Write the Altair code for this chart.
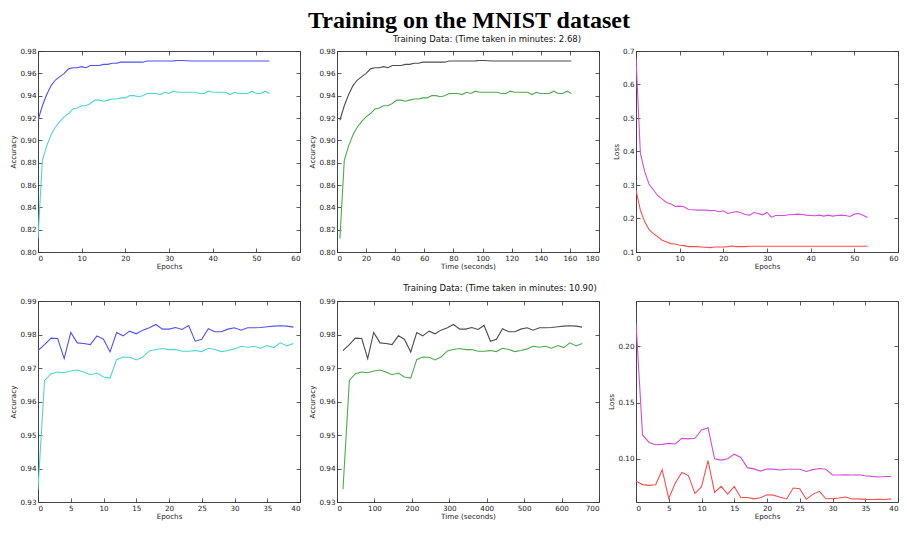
import altair as alt
import pandas as pd

FONT = "DejaVu Sans"

# ---------------- data: run 1 (54 epochs, 2.68 minutes) ----------------
epochs_top = list(range(54))
time_top = [2, 5, 8, 11, 14, 17, 20, 23, 26, 29, 32, 35, 38, 41, 44, 47, 50, 53,
            56, 59, 62, 65, 68, 71, 74, 77, 80, 83, 86, 89, 92, 95, 98, 101, 104,
            107, 110, 113, 116, 119, 122, 125, 128, 131, 134, 137, 140, 143, 146,
            149, 152, 155, 158, 161]
train_acc_top = [0.918, 0.931, 0.941, 0.949, 0.954, 0.957, 0.960, 0.964, 0.965, 0.965,
                 0.966, 0.965, 0.967, 0.967, 0.967, 0.968, 0.968, 0.969, 0.969, 0.970,
                 0.970, 0.970, 0.970, 0.970, 0.970, 0.971, 0.971, 0.971, 0.971, 0.971,
                 0.971, 0.9712, 0.9715, 0.9715, 0.9713, 0.971, 0.971, 0.971, 0.971, 0.971,
                 0.971, 0.971, 0.971, 0.971, 0.971, 0.971, 0.971, 0.971, 0.971, 0.971,
                 0.971, 0.971, 0.971, 0.971]
val_acc_top = [0.812, 0.882, 0.895, 0.905, 0.912, 0.917, 0.921, 0.924, 0.928, 0.929,
               0.931, 0.931, 0.933, 0.936, 0.936, 0.935, 0.936, 0.937, 0.937, 0.938,
               0.938, 0.940, 0.940, 0.939, 0.940, 0.942, 0.942, 0.942, 0.941, 0.943,
               0.942, 0.944, 0.943, 0.943, 0.943, 0.943, 0.943, 0.942, 0.942, 0.944,
               0.943, 0.943, 0.943, 0.943, 0.941, 0.943, 0.942, 0.942, 0.942, 0.944,
               0.942, 0.942, 0.944, 0.942]
val_loss_top = [0.680, 0.395, 0.340, 0.302, 0.285, 0.268, 0.258, 0.248, 0.243, 0.236,
                0.237, 0.235, 0.227, 0.226, 0.225, 0.225, 0.225, 0.224, 0.224, 0.220,
                0.223, 0.215, 0.218, 0.221, 0.217, 0.212, 0.210, 0.218, 0.215, 0.211,
                0.218, 0.204, 0.209, 0.209, 0.209, 0.211, 0.212, 0.213, 0.212, 0.210,
                0.209, 0.208, 0.210, 0.207, 0.210, 0.207, 0.209, 0.210, 0.209, 0.206,
                0.213, 0.215, 0.210, 0.203]
train_loss_top = [0.285, 0.225, 0.190, 0.167, 0.155, 0.145, 0.135, 0.130, 0.125, 0.124,
                  0.120, 0.119, 0.116, 0.116, 0.116, 0.115, 0.114, 0.113, 0.115, 0.115,
                  0.115, 0.116, 0.118, 0.116, 0.116, 0.116, 0.117, 0.117, 0.117, 0.117,
                  0.117, 0.117, 0.117, 0.117, 0.117, 0.117, 0.117, 0.117, 0.117, 0.117,
                  0.117, 0.117, 0.117, 0.117, 0.117, 0.117, 0.117, 0.117, 0.117, 0.117,
                  0.117, 0.117, 0.117, 0.117]

# ---------------- data: run 2 (40 epochs, 10.90 minutes) ----------------
epochs_bot = list(range(40))
time_bot = [16, 33, 49, 66, 82, 98, 115, 131, 147, 164, 180, 197, 213, 229, 246,
            262, 278, 295, 311, 328, 344, 360, 377, 393, 410, 426, 442, 459, 475,
            491, 508, 524, 541, 557, 573, 590, 606, 622, 639, 655]
train_acc_bot = [0.9752, 0.9770, 0.9789, 0.9788, 0.9728, 0.9806, 0.9775, 0.9773, 0.9770, 0.9796,
                 0.9786, 0.9748, 0.9806, 0.9796, 0.9810, 0.9802, 0.9813, 0.9820, 0.9830, 0.9816,
                 0.9816, 0.9821, 0.9815, 0.9827, 0.9780, 0.9786, 0.9817, 0.9808, 0.9808, 0.9816,
                 0.9820, 0.9813, 0.9820, 0.9820, 0.9821, 0.9823, 0.9825, 0.9826, 0.9825, 0.9822]
val_acc_bot = [0.9338, 0.9663, 0.9683, 0.9688, 0.9686, 0.9691, 0.9694, 0.9688, 0.9680, 0.9685,
               0.9673, 0.9670, 0.9725, 0.9733, 0.9732, 0.9724, 0.9733, 0.9751, 0.9755, 0.9758,
               0.9755, 0.9755, 0.9750, 0.9750, 0.9752, 0.9749, 0.9759, 0.9755, 0.9749, 0.9752,
               0.9757, 0.9765, 0.9762, 0.9765, 0.9759, 0.9767, 0.9761, 0.9775, 0.9766, 0.9773]
val_loss_bot = [0.2210, 0.1212, 0.1145, 0.1125, 0.1128, 0.1137, 0.1132, 0.1182, 0.1177, 0.1182,
                0.1256, 0.1277, 0.1000, 0.0988, 0.1000, 0.1041, 0.1012, 0.0921, 0.0910, 0.0890,
                0.0909, 0.0908, 0.0900, 0.0907, 0.0906, 0.0906, 0.0887, 0.0903, 0.0913, 0.0906,
                0.0856, 0.0855, 0.0857, 0.0855, 0.0857, 0.0849, 0.0843, 0.0838, 0.0842, 0.0842]
train_loss_bot = [0.0800, 0.0770, 0.0763, 0.0768, 0.0903, 0.0647, 0.0785, 0.0878, 0.0850, 0.0690,
                  0.0752, 0.0984, 0.0700, 0.0754, 0.0685, 0.0754, 0.0655, 0.0655, 0.0643, 0.0653,
                  0.0680, 0.0676, 0.0658, 0.0642, 0.0740, 0.0733, 0.0640, 0.0683, 0.0710, 0.0644,
                  0.0645, 0.0650, 0.0660, 0.0642, 0.0643, 0.0638, 0.0637, 0.0638, 0.0637, 0.0643]

C_BLUE, C_CYAN = "#5050ff", "#4fd6d0"
C_BLACK, C_GREEN = "#4d4d4d", "#4daa4d"
C_MAG, C_RED = "#d44dd8", "#ff4d4d"

W, H = 262, 201
TICK = 4
FS = 7.2


def panel(xvals, y1, y2, c1, c2, xdom, xticks, ydom, yticks, xtitle, ytitle, yfmt,
          title="", tdx=0, tdy=0):
    df = pd.DataFrame({"x": xvals, "a": y1, "b": y2})
    base = alt.Chart(df)
    xs = alt.Scale(domain=xdom, nice=False, zero=False)
    ys = alt.Scale(domain=ydom, nice=False, zero=False)
    common = dict(offset=-TICK, tickSize=TICK, domain=False, grid=False,
                  tickColor="#333", tickWidth=0.8, labelFont=FONT, titleFont=FONT,
                  labelFontSize=FS, titleFontSize=FS, labelColor="#222", titleColor="#222",
                  titleFontWeight="normal")
    l1 = base.mark_line(color=c1, strokeWidth=1.1, clip=True).encode(
        x=alt.X("x:Q", scale=xs, axis=alt.Axis(values=xticks, title=xtitle, orient="bottom",
                                                format="d", labelPadding=2, titlePadding=1,
                                                **common)),
        y=alt.Y("a:Q", scale=ys, axis=alt.Axis(values=yticks, title=ytitle, orient="left",
                                                format=yfmt, labelPadding=2, titlePadding=2,
                                                **common)),
    )
    l2 = base.mark_line(color=c2, strokeWidth=1.1, clip=True).encode(
        x=alt.X("x:Q", scale=xs, axis=alt.Axis(values=xticks, title="", orient="top",
                                                labels=False, **common)),
        y=alt.Y("b:Q", scale=ys, axis=alt.Axis(values=yticks, title="", orient="right",
                                                labels=False, **common)),
    )
    ch = alt.layer(l1, l2).resolve_scale(x="independent", y="independent")
    props = dict(width=W, height=H)
    if title:
        props["title"] = alt.TitleParams(title, font=FONT, fontSize=8.5, fontWeight="normal",
                                         anchor="middle", offset=4, color="#111", dx=tdx, dy=tdy)
    return ch.properties(**props)


acc_ticks_top = [0.80, 0.82, 0.84, 0.86, 0.88, 0.90, 0.92, 0.94, 0.96, 0.98]
acc_ticks_bot = [0.93, 0.94, 0.95, 0.96, 0.97, 0.98, 0.99]

p1 = panel(epochs_top, train_acc_top, val_acc_top, C_BLUE, C_CYAN, [0, 60],
           [0, 10, 20, 30, 40, 50, 60], [0.80, 0.98], acc_ticks_top, "Epochs", "Accuracy", ".2f")
p2 = panel(time_top, train_acc_top, val_acc_top, C_BLACK, C_GREEN, [0, 180],
           [0, 20, 40, 60, 80, 100, 120, 140, 160, 180], [0.80, 0.98], acc_ticks_top,
           "Time (seconds)", "Accuracy", ".2f", "Training Data: (Time taken in minutes: 2.68)",
           19, 0)
p3 = panel(epochs_top, val_loss_top, train_loss_top, C_MAG, C_RED, [0, 60],
           [0, 10, 20, 30, 40, 50, 60], [0.1, 0.7], [0.1, 0.2, 0.3, 0.4, 0.5, 0.6, 0.7],
           "Epochs", "Loss", ".1f")
p4 = panel(epochs_bot, train_acc_bot, val_acc_bot, C_BLUE, C_CYAN, [0, 40],
           [0, 5, 10, 15, 20, 25, 30, 35, 40], [0.93, 0.99], acc_ticks_bot, "Epochs", "Accuracy", ".2f")
p5 = panel(time_bot, train_acc_bot, val_acc_bot, C_BLACK, C_GREEN, [0, 700],
           [0, 100, 200, 300, 400, 500, 600, 700], [0.93, 0.99], acc_ticks_bot,
           "Time (seconds)", "Accuracy", ".2f", "Training Data: (Time taken in minutes: 10.90)",
           32, -1)
p6 = panel(epochs_bot, val_loss_bot, train_loss_bot, C_MAG, C_RED, [0, 40],
           [0, 5, 10, 15, 20, 25, 30, 35, 40], [0.0615, 0.2405], [0.10, 0.15, 0.20],
           "Epochs", "Loss", ".2f")

chart = alt.concat(p1, p2, p3, p4, p5, p6, columns=3,
                   spacing={"row": 49, "column": 37}, bounds="flush").properties(
    title=alt.TitleParams("Training on the MNIST dataset", font="Liberation Serif",
                          fontSize=24, fontWeight="bold", anchor="middle", color="#000",
                          offset=1, frame="group", dx=431),
    autosize=alt.AutoSizeParams(type="none"),
    padding={"left": 30, "top": 43, "right": 861, "bottom": 470},
    background="white",
).configure_view(stroke="#444", strokeWidth=1)

chart.save("out.html", embed_options={"renderer": "svg", "actions": False})
